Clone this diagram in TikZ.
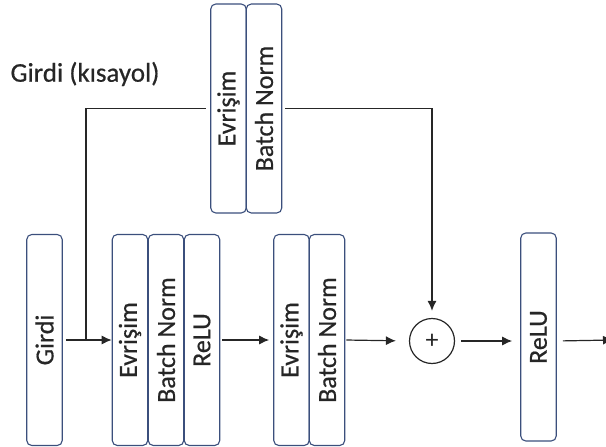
\documentclass[tikz,border=0pt]{standalone}
\usepackage{fontspec}
\setmainfont{Carlito}[AutoFakeBold=0.6]
\usetikzlibrary{arrows.meta}
\definecolor{boxblue}{HTML}{3B4F7C}
\definecolor{inkgray}{HTML}{262626}
\tikzset{layer/.style={draw=boxblue,line width=1.1pt,rounded corners=5pt,rotate=90,minimum width=211pt,minimum height=35.5pt,inner sep=0pt,text=inkgray,font=\fontsize{26}{30}\selectfont\addfontfeature{FakeBold=0.6}},
flow/.style={draw=inkgray,line width=1.2pt,-{Latex[length=10pt,width=9pt]}}}
\begin{document}
\begin{tikzpicture}[x=1pt,y=-1pt]
\useasboundingbox (0,0) rectangle (606,447);
\node[anchor=west,text=inkgray,font=\fontsize{27}{32}\selectfont\addfontfeature{FakeBold=0.6}] (kisayol) at (7,74) {Girdi (kısayol)};
\node[layer] (girdi) at (44.5,340) {Girdi};
\node[layer] (conv1) at (130,340) {Evrişim};
\node[layer] (bn1) at (166,340) {Batch Norm};
\node[layer] (relu1) at (202,340) {ReLU};
\node[layer] (conv2) at (291.5,340) {Evrişim};
\node[layer] (bn2) at (327,340) {Batch Norm};
\node[layer,minimum width=208pt] (relu2) at (538.5,337) {ReLU};
\node[layer,minimum width=209pt] (convs) at (228.5,108.5) {Evrişim};
\node[layer,minimum width=209pt] (bns) at (264,108.5) {Batch Norm};
\node[circle,draw=inkgray,line width=1.2pt,minimum size=45pt,inner sep=0pt,text=inkgray,font=\fontsize{26}{30}\selectfont] (plus) at (432,341) {+};
\coordinate (split) at (86,340);
\coordinate (out) at (613,340);
% main path
\draw[flow,shorten <=3pt] (girdi.south) -- (conv1.north);
\draw[flow,shorten <=2pt,shorten >=4pt] (relu1.south) -- (conv2.north);
\draw[flow,shorten <=1pt,shorten >=13pt] (bn2.south) -- (plus.west);
\draw[flow,shorten <=6pt,shorten >=8pt] (plus.east) -- (plus.east -| relu2.north);
\draw[flow,shorten <=6pt] (relu2.south |- plus) -- (out);
% shortcut
\draw[draw=inkgray,line width=1.2pt,shorten >=4pt] (split) |- (convs.north);
\draw[flow,shorten <=3pt,shorten >=7pt] (bns.south) -| (plus.north);
\end{tikzpicture}
\end{document}
